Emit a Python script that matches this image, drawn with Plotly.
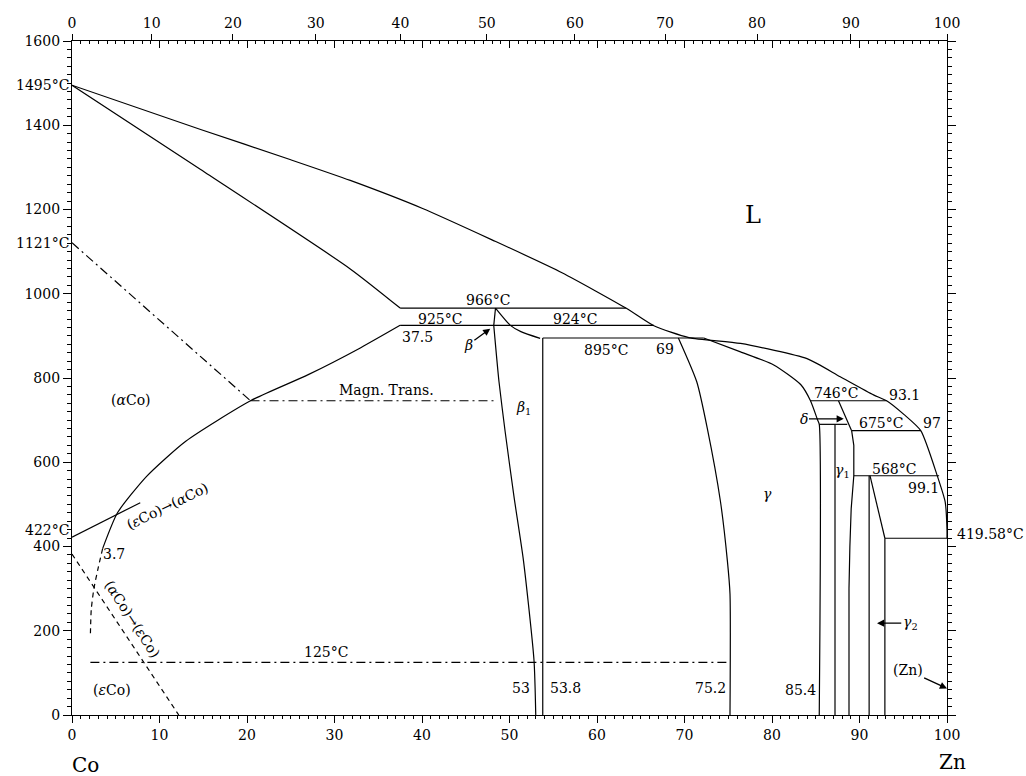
import plotly.graph_objects as go

# ---------------- data (x = at.% Zn, T = deg C) ----------------
LIQ_X = [0, 14.7, 25, 31.8, 40, 48, 56, 63.3, 66.5, 70.5, 76.4, 84.0, 87.8, 91.6, 93.1, 95.1, 97.0, 98.9, 99.8, 100, 100]
LIQ_T = [1495, 1390, 1318, 1269, 1203, 1128, 1050, 966, 924, 896, 882, 846, 803, 760, 746, 713, 675, 567, 505, 440, 419.58]

SOL_X = [0, 14.7, 31.8, 37.5]
SOL_T = [1495, 1295, 1059, 966]

SOLV_X = [37.5, 33.0, 27.0, 20.4, 13.0, 8.5, 5.2, 3.5]
SOLV_T = [925, 872, 808, 746, 650, 566, 480, 395]

SOLV_DASH_X = [3.5, 3.0, 2.5, 2.2, 2.1]
SOLV_DASH_T = [395, 350, 300, 250, 189]

EPS_ALPHA_X = [0, 7.8]
EPS_ALPHA_T = [422, 504]

MART_X = [0, 12.2]
MART_T = [382, 0]

CURIE_X = [0, 20.4]
CURIE_T = [1121, 746]

MAGN_X = [20.4, 48.6]
MAGN_T = [746, 746]

ORDER_X = [2.1, 75.2]
ORDER_T = [125, 125]

BETA_R_X = [48.4, 50.1, 51.3, 53.5]
BETA_R_T = [966, 925, 910, 894]

BETA_L_X = [48.4, 48.2]
BETA_L_T = [966, 925]

BETA1_L_X = [48.2, 48.8, 49.5, 50.5, 51.6, 52.8, 53.0]
BETA1_L_T = [925, 791, 673, 520, 366, 130, 0]

GAMMA_L_X = [69.3, 71.4, 72.6, 74.1, 74.9, 75.2, 75.2]
GAMMA_L_T = [895, 791, 681, 508, 366, 287, 0]

GAMMA_R_X = [72.2, 76.4, 80.2, 83.3, 84.4, 85.2, 85.4, 85.4]
GAMMA_R_T = [895, 862, 831, 784, 746, 701, 690, 0]

DELTA_X = [87.6, 89.1]
DELTA_T = [746, 675]

GAMMA1_R_X = [89.1, 89.35, 89.35, 89.05, 88.9, 88.8, 88.8]
GAMMA1_R_T = [675, 640, 568, 490, 400, 300, 0]

GAMMA2_X = [91.2, 92.9]
GAMMA2_T = [568, 419.58]

# horizontal invariant lines
INV_T = [966, 925, 895, 746, 690, 675, 568, 419.58]
INV_X0 = [37.5, 37.5, 53.8, 84.4, 85.4, 89.1, 89.35, 92.9]
INV_X1 = [63.3, 66.5, 72.2, 93.1, 88.6, 97.0, 99.1, 100]

# vertical phase lines
VERT_X = [53.8, 87.2, 91.1, 92.9]
VERT_T0 = [895, 690, 568, 419.58]
VERT_T1 = [0, 0, 0, 0]

X_TICKS = [0, 10, 20, 30, 40, 50, 60, 70, 80, 90, 100]
Y_TICKS = [0, 200, 400, 600, 800, 1000, 1200, 1400, 1600]
WT_TICKS = [0, 10, 20, 30, 40, 50, 60, 70, 80, 90, 100]
M_CO, M_ZN = 58.933, 65.38
X_MAX, T_MAX = 100, 1600


def wt_to_at(w):
    a = w / M_ZN
    b = (100 - w) / M_CO
    return 100 * a / (a + b)


FONT = "DejaVu Serif"
LW = 1.2

fig = go.Figure()


def line(xs, ts, dash="solid", width=LW, smooth=False):
    ln = dict(color="black", width=width, dash=dash)
    if smooth:
        ln.update(shape="spline", smoothing=0.6)
    fig.add_trace(go.Scatter(x=xs, y=ts, mode="lines", line=ln,
                             showlegend=False, hoverinfo="skip"))


line(LIQ_X, LIQ_T, smooth=True)
line(SOL_X, SOL_T, smooth=True)
line(SOLV_X, SOLV_T, smooth=True)
line(SOLV_DASH_X, SOLV_DASH_T, dash="5px,4px", smooth=True)
line(EPS_ALPHA_X, EPS_ALPHA_T)
line(MART_X, MART_T, dash="5px,4px")
line(CURIE_X, CURIE_T, dash="9px,4px,2px,4px")
line(MAGN_X, MAGN_T, dash="9px,4px,2px,4px")
line(ORDER_X, ORDER_T, dash="9px,4px,2px,4px")
line(BETA_R_X, BETA_R_T, smooth=True)
line(BETA_L_X, BETA_L_T)
line(BETA1_L_X, BETA1_L_T, smooth=True)
line(GAMMA_L_X, GAMMA_L_T, smooth=True)
line(GAMMA_R_X, GAMMA_R_T, smooth=True)
line(DELTA_X, DELTA_T)
line(GAMMA1_R_X, GAMMA1_R_T)
line(GAMMA2_X, GAMMA2_T)
for t, x0, x1 in zip(INV_T, INV_X0, INV_X1):
    line([x0, x1], [t, t])
for x, t0, t1 in zip(VERT_X, VERT_T0, VERT_T1):
    line([x, x], [t0, t1])

# invisible traces to activate the top axes
fig.add_trace(go.Scatter(x=[0], y=[0], xaxis="x2", yaxis="y", mode="markers",
                         marker=dict(opacity=0), showlegend=False, hoverinfo="skip"))
fig.add_trace(go.Scatter(x=[0], y=[0], xaxis="x3", yaxis="y", mode="markers",
                         marker=dict(opacity=0), showlegend=False, hoverinfo="skip"))

tickfont = dict(family=FONT, size=14, color="black")

ann = []


def text(x, y, s, size=14, xanchor="center", yanchor="middle", angle=0,
         xref="x", yref="y", yshift=0, xshift=0):
    ann.append(dict(x=x, y=y, xref=xref, yref=yref, text=s, showarrow=False,
                    font=dict(family=FONT, size=size, color="black"),
                    xanchor=xanchor, yanchor=yanchor, textangle=angle,
                    yshift=yshift, xshift=xshift))


def arrow(hx, hy, tx, ty, s, size=14):
    ann.append(dict(x=hx, y=hy, ax=tx, ay=ty, xref="x", yref="y", axref="x", ayref="y",
                    text=s, showarrow=True, arrowhead=2, arrowsize=1.1, arrowwidth=1.3,
                    arrowcolor="black", font=dict(family=FONT, size=size, color="black")))


text(77.8, 1188, "L", size=24)
text(47.5, 984, "966°C")
text(42.1, 941, "925°C")
text(57.5, 941, "924°C")
text(39.5, 898, "37.5")
text(61.0, 866, "895°C")
text(67.8, 870, "69")
text(35.9, 771, "Magn. Trans.")
text(51.6, 728, "<i>β</i><sub>1</sub>")
text(6.7, 748, "(<i>α</i>Co)")
text(10.9, 496, "(<i>ε</i>Co)→(<i>α</i>Co)", angle=-26)
text(4.8, 382, "3.7")
text(6.9, 228, "(<i>α</i>Co)→(<i>ε</i>Co)", angle=57)
text(4.6, 59, "(<i>ε</i>Co)")
text(29.0, 149, "125°C")
text(51.3, 63, "53")
text(56.4, 63, "53.8")
text(73.0, 63, "75.2")
text(83.3, 59, "85.4")
text(79.5, 524, "<i>γ</i>")
text(87.3, 764, "746°C")
text(95.1, 760, "93.1")
text(92.4, 693, "675°C")
text(98.3, 693, "97")
text(88.1, 579, "<i>γ</i><sub>1</sub>")
text(93.9, 583, "568°C")
text(97.3, 539, "99.1")
# labels outside the plotting range use paper coordinates
text(100.9 / X_MAX, 429 / T_MAX, "419.58°C", xanchor="left", xref="paper", yref="paper")
text(1.5 / X_MAX, -118 / T_MAX, "Co", size=20, xref="paper", yref="paper")
text(100.6 / X_MAX, -111 / T_MAX, "Zn", size=20, xref="paper", yref="paper")
# special temperature labels on the left axis
text(0, 1495, "1495°C", xref="paper", xanchor="right", xshift=-1)
text(0, 1121, "1121°C", xref="paper", xanchor="right", xshift=-1)
text(0, 422, "422°C", xref="paper", xanchor="right", xshift=-1, yshift=7)

arrow(47.8, 917, 45.3, 879, "<i>β</i>")
arrow(88.2, 703, 83.6, 703, "<i>δ</i>")
arrow(92.0, 218, 95.8, 218, "<i>γ</i><sub>2</sub>")
arrow(100, 63, 95.5, 106, "(Zn)")

fig.update_layout(
    width=1026, height=776, autosize=False,
    margin=dict(l=72, r=79, t=41, b=61),
    paper_bgcolor="white", plot_bgcolor="white",
    showlegend=False,
    annotations=ann,
    xaxis=dict(range=[0, X_MAX], tickmode="array", tickvals=X_TICKS,
               ticks="outside", ticklen=7, tickwidth=1, tickcolor="black",
               minor=dict(dtick=1, ticks="outside", ticklen=3, tickcolor="black"),
               showline=True, linecolor="black", linewidth=LW, mirror=True,
               showgrid=False, zeroline=False, tickfont=tickfont),
    xaxis2=dict(range=[0, X_MAX], overlaying="x", side="top", tickmode="array",
                tickvals=[wt_to_at(w) for w in WT_TICKS], ticktext=[str(w) for w in WT_TICKS],
                ticks="outside", ticklen=6, tickwidth=1, tickcolor="black",
                showline=False, showgrid=False, zeroline=False, tickfont=tickfont),
    xaxis3=dict(range=[0, X_MAX], overlaying="x", side="top", tickmode="array",
                tickvals=X_TICKS, ticks="inside", ticklen=7, tickwidth=1, tickcolor="black",
                minor=dict(dtick=1, ticks="inside", ticklen=3, tickcolor="black"),
                showticklabels=False, showline=False, showgrid=False, zeroline=False),
    yaxis=dict(range=[0, T_MAX], tickmode="array", tickvals=Y_TICKS,
               ticks="outside", ticklen=8, tickwidth=1, tickcolor="black",
               minor=dict(dtick=20, ticks="outside", ticklen=4, tickcolor="black"),
               showline=True, linecolor="black", linewidth=LW, mirror="ticks",
               showgrid=False, zeroline=False, tickfont=tickfont),
)

fig.write_html("out.html", config={"displayModeBar": False},
               post_script="document.body.style.margin='0';")
